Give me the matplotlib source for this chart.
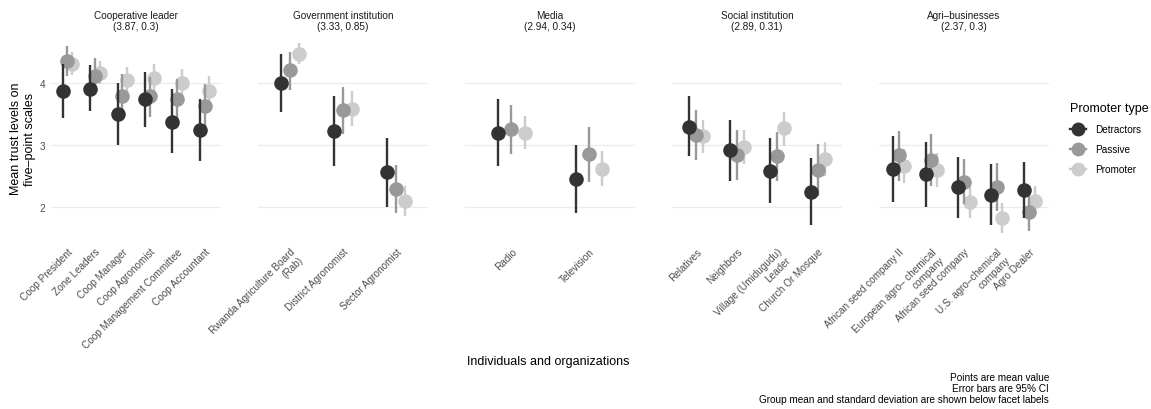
import matplotlib
matplotlib.use("Agg")
from matplotlib import pyplot as plt
from matplotlib.lines import Line2D

plt.rcParams['font.family'] = ['Liberation Sans', 'DejaVu Sans']

facets = ['Cooperative leader', 'Government institution', 'Media',
          'Social institution', 'Agri\u2013businesses']
facet_stats = ['(3.87, 0.3)', '(3.33, 0.85)', '(2.94, 0.34)', '(2.89, 0.31)', '(2.37, 0.3)']

items = [
    ['Coop President', 'Zone Leaders', 'Coop Manager', 'Coop Agronomist',
     'Coop Management Committee', 'Coop Accountant'],
    ['Rwanda Agriculture Board\n(Rab)', 'District Agronomist', 'Sector Agronomist'],
    ['Radio', 'Television'],
    ['Relatives', 'Neighbors', 'Village (Umidugudu)\nLeader', 'Church Or Mosque'],
    ['African seed company II', 'European agro\u2013 chemical\ncompany',
     'African seed company', 'U.S. agro\u2013chemical\ncompany', 'Agro Dealer'],
]

# means and 95% CI per item, by promoter type
det_mean = [[3.87, 3.91, 3.51, 3.74, 3.38, 3.25], [4.00, 3.22, 2.57], [3.20, 2.45],
            [3.30, 2.92, 2.59, 2.25], [2.61, 2.53, 2.33, 2.19, 2.28]]
det_lo = [[3.44, 3.55, 3.01, 3.30, 2.87, 2.75], [3.53, 2.67, 2.00], [2.67, 1.91],
          [2.83, 2.42, 2.06, 1.71], [2.09, 2.01, 1.83, 1.71, 1.82]]
det_hi = [[4.31, 4.29, 4.01, 4.18, 3.90, 3.75], [4.47, 3.79, 3.12], [3.74, 3.00],
          [3.79, 3.41, 3.11, 2.79], [3.15, 3.05, 2.81, 2.69, 2.73]]

pas_mean = [[4.36, 4.11, 3.80, 3.79, 3.74, 3.63], [4.21, 3.56, 2.29], [3.26, 2.85],
            [3.16, 2.84, 2.83, 2.60], [2.84, 2.76, 2.41, 2.32, 1.92]]
pas_lo = [[4.11, 3.85, 3.47, 3.46, 3.42, 3.31], [3.89, 3.18, 1.90], [2.85, 2.41],
          [2.76, 2.44, 2.42, 2.18], [2.42, 2.34, 2.05, 1.94, 1.62]]
pas_hi = [[4.60, 4.40, 4.15, 4.10, 4.06, 3.98], [4.50, 3.93, 2.68], [3.65, 3.30],
          [3.57, 3.25, 3.21, 3.02], [3.23, 3.18, 2.77, 2.71, 2.25]]

pro_mean = [[4.31, 4.17, 4.05, 4.08, 4.00, 3.87], [4.47, 3.59, 2.10], [3.20, 2.62],
            [3.15, 2.97, 3.27, 2.77], [2.67, 2.60, 2.09, 1.83, 2.10]]
pro_lo = [[4.13, 3.98, 3.85, 3.85, 3.80, 3.63], [4.31, 3.31, 1.85], [2.94, 2.34],
          [2.87, 2.69, 2.99, 2.50], [2.39, 2.32, 1.83, 1.59, 1.86]]
pro_hi = [[4.50, 4.36, 4.26, 4.31, 4.23, 4.11], [4.64, 3.87, 2.34], [3.47, 2.90],
          [3.41, 3.24, 3.53, 3.05], [2.94, 2.87, 2.34, 2.06, 2.34]]

types = ['Detractors', 'Passive', 'Promoter']
colors = {'Detractors': '#333333', 'Passive': '#999999', 'Promoter': '#cccccc'}
series = {
    'Detractors': (det_mean, det_lo, det_hi),
    'Passive': (pas_mean, pas_lo, pas_hi),
    'Promoter': (pro_mean, pro_lo, pro_hi),
}
offsets = {'Detractors': -0.17, 'Passive': 0.0, 'Promoter': 0.17}
zorders = {'Detractors': 5, 'Passive': 4, 'Promoter': 3}

W, H = 1151, 410
fig = plt.figure(figsize=(W / 100, H / 100), dpi=100)

all_lo = min(min(v) for grp in (det_lo, pas_lo, pro_lo) for v in grp)
all_hi = max(max(v) for grp in (det_hi, pas_hi, pro_hi) for v in grp)
pad = (all_hi - all_lo) * 0.05
ylim = (all_lo - pad, all_hi + pad)

top_px, bot_px = 35, 243
pw, gap, left0 = 170, 37, 51

for i, fac in enumerate(facets):
    lx = left0 + i * (pw + gap)
    ax = fig.add_axes([lx / W, 1 - bot_px / H, pw / W, (bot_px - top_px) / H])
    n = len(items[i])
    for t in types:
        m, lo, hi = series[t]
        xs = [k + offsets[t] for k in range(n)]
        ax.vlines(xs, lo[i], hi[i], color=colors[t], lw=1.7, zorder=zorders[t])
        ax.plot(xs, m[i], 'o', ms=10.5, color=colors[t], mec='none', zorder=zorders[t])
    ax.set_xlim(-0.6, n - 1 + 0.6)
    ax.set_ylim(*ylim)
    ax.set_yticks([2, 3, 4])
    ax.set_xticks(range(n))
    ax.set_xticklabels(items[i], rotation=45, ha='right', va='top',
                       rotation_mode='anchor', fontsize=7.2, color='#4d4d4d',
                       multialignment='right')
    ax.tick_params(length=0, pad=3)
    ax.tick_params(axis='y', labelsize=7.2, labelcolor='#4d4d4d', pad=4)
    if i > 0:
        ax.set_yticklabels([])
    ax.grid(axis='y', color='#ebebeb', lw=0.9)
    ax.set_axisbelow(True)
    for s in ax.spines.values():
        s.set_visible(False)
    cx = (lx + pw / 2) / W
    fig.text(cx, 1 - 16 / H, fac, ha='center', va='center', fontsize=7.2, color='#1a1a1a')
    fig.text(cx, 1 - 27 / H, facet_stats[i], ha='center', va='center', fontsize=7.2,
             color='#1a1a1a')

fig.text(23 / W, 1 - 139 / H, 'Mean trust levels on\nfive\u2013point scales', rotation=90,
         ha='center', va='center', fontsize=9, multialignment='center')
fig.text(548 / W, 1 - 362 / H, 'Individuals and organizations', ha='center', va='center',
         fontsize=9)

caption = ['Points are mean value', 'Error bars are 95% CI',
           'Group mean and standard deviation are shown below facet labels']
for j, c in enumerate(caption):
    fig.text(1049 / W, 1 - (378 + 11 * j) / H, c, ha='right', va='center', fontsize=7.2)

handles = [Line2D([], [], color=colors[t], marker='o', ms=10, lw=1.7, mec='none')
           for t in types]
leg = fig.legend(handles, types, loc='upper left', bbox_to_anchor=(1061 / W, 1 - 94 / H),
                 frameon=False, fontsize=7.2, title='Promoter type', title_fontsize=9,
                 handlelength=1.6, handletextpad=0.9, labelspacing=1.0)
leg._legend_box.align = 'left'

fig.savefig('out.png', dpi=100)
